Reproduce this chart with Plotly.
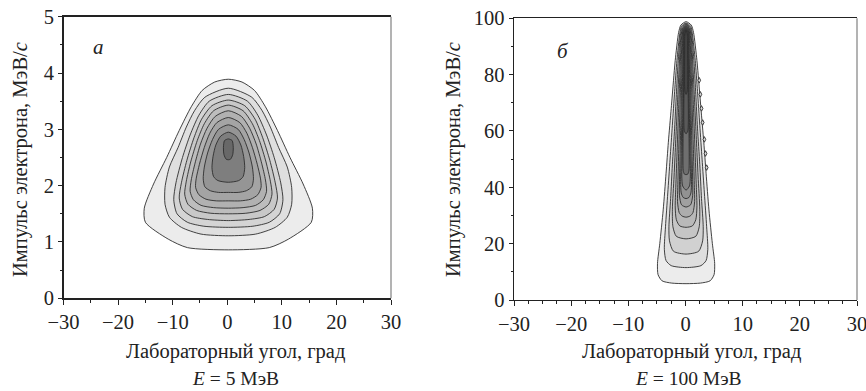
import plotly.graph_objects as go

# ---------------- data ----------------
# Panel a (E = 5 MeV): each contour is given as its right-half profile,
# half-width (deg) vs electron momentum (MeV/c), from top to bottom.
a_center = 0.2
a_halfwidth = [
    [0, 2.5, 4.8, 6.8, 9.0, 11.3, 13.7, 15.4, 15.2, 11.0, 7.5, 0],
    [0, 4.3, 6.2, 7.7, 9.2, 10.8, 11.6, 11.6, 10.8, 8.6, 5.0, 0],
    [0, 3.5, 5.4, 7.0, 8.4, 9.6, 10.0, 9.4, 7.5, 4.5, 0],
    [0, 3.0, 4.9, 6.3, 7.6, 8.6, 9.0, 8.4, 6.6, 3.8, 0],
    [0, 2.7, 4.4, 5.7, 6.9, 7.7, 8.0, 7.4, 5.8, 3.2, 0],
    [0, 2.4, 3.9, 5.1, 6.1, 6.8, 7.0, 6.4, 5.0, 2.7, 0],
    [0, 2.1, 3.4, 4.4, 5.3, 5.9, 6.0, 5.4, 4.1, 2.2, 0],
    [0, 1.8, 2.9, 3.8, 4.4, 4.6, 4.3, 3.3, 1.8, 0],
    [0, 1.4, 2.3, 2.8, 3.0, 2.7, 1.9, 0],
    [0, 0.7, 0.9, 0.8, 0.4, 0],
]
a_momentum = [
    [3.89, 3.84, 3.69, 3.40, 2.98, 2.50, 2.03, 1.60, 1.35, 1.05, 0.90, 0.86],
    [3.73, 3.57, 3.33, 3.04, 2.68, 2.33, 1.97, 1.67, 1.44, 1.26, 1.14, 1.11],
    [3.62, 3.50, 3.25, 2.90, 2.50, 2.05, 1.75, 1.50, 1.35, 1.28, 1.26],
    [3.52, 3.42, 3.18, 2.85, 2.45, 2.05, 1.78, 1.58, 1.45, 1.40, 1.38],
    [3.43, 3.33, 3.10, 2.80, 2.42, 2.08, 1.85, 1.67, 1.56, 1.51, 1.50],
    [3.33, 3.23, 3.02, 2.74, 2.40, 2.10, 1.90, 1.75, 1.65, 1.61, 1.60],
    [3.21, 3.12, 2.93, 2.68, 2.38, 2.12, 1.97, 1.84, 1.76, 1.73, 1.73],
    [3.08, 3.00, 2.82, 2.58, 2.33, 2.12, 1.98, 1.91, 1.88, 1.88],
    [2.95, 2.88, 2.72, 2.52, 2.32, 2.16, 2.09, 2.06],
    [2.83, 2.80, 2.68, 2.55, 2.47, 2.46],
]
a_fill = ["#ececec", "#dfdfdf", "#d4d4d4", "#c8c8c8", "#bdbdbd",
          "#b1b1b1", "#a4a4a4", "#959595", "#7e7e7e", "#686868"]

# Panel б (E = 100 MeV)
b_center = 0.1
b_halfwidth = [
    [0, 0.9, 1.3, 1.9, 2.2, 2.6, 3.1, 3.5, 4.0, 4.6, 5.0, 4.9, 4.2, 2.5, 0],
    [0, 0.8, 1.1, 1.6, 2.0, 2.4, 2.8, 3.2, 3.6, 3.8, 3.5, 2.6, 0],
    [0, 0.7, 1.0, 1.4, 1.7, 2.0, 2.4, 2.7, 3.0, 2.9, 2.2, 0],
    [0, 0.6, 0.9, 1.2, 1.5, 1.8, 2.1, 2.4, 2.3, 1.7, 0],
    [0, 0.55, 0.8, 1.05, 1.3, 1.55, 1.8, 1.9, 1.7, 1.1, 0],
    [0, 0.5, 0.7, 0.9, 1.1, 1.3, 1.45, 1.5, 1.2, 0.7, 0],
    [0, 0.45, 0.6, 0.75, 0.9, 1.05, 1.15, 1.15, 0.8, 0],
    [0, 0.4, 0.5, 0.62, 0.75, 0.85, 0.95, 0.85, 0.5, 0],
    [0, 0.35, 0.42, 0.5, 0.6, 0.68, 0.75, 0.6, 0],
    [0, 0.3, 0.36, 0.42, 0.5, 0.55, 0.5, 0.3, 0],
    [0, 0.25, 0.3, 0.35, 0.4, 0.3, 0],
    [0, 0.2, 0.25, 0.28, 0.2, 0],
]
b_momentum = [
    [98.8, 97.6, 95, 85, 78, 68, 56, 45, 32, 20, 13, 9, 6.8, 6.0, 5.8],
    [98.3, 97.2, 94.5, 85, 74, 62, 50, 38, 26, 18, 14, 12.2, 11.5],
    [98.0, 96.8, 94, 84, 73, 61, 48, 36, 26, 21, 17.3, 16.3],
    [97.8, 96.5, 93.5, 83, 70, 57, 44, 32, 26, 22.6, 21.7],
    [97.6, 96.2, 93, 82, 68, 54, 40, 33, 28.5, 26.3, 25.8],
    [97.4, 96.0, 92.5, 81, 66, 52, 40, 35, 31, 29.8, 29.4],
    [97.2, 95.8, 92, 80, 65, 52, 42, 37, 33.8, 33.0],
    [97.0, 95.5, 91.5, 79, 64, 52, 42, 38, 36.4, 36.0],
    [96.8, 95.2, 91, 78, 63, 52, 44, 40.5, 39.0],
    [96.5, 95.0, 90, 77, 62, 50, 46, 44.7, 44.5],
    [96.2, 94.5, 89, 76, 64, 60, 59],
    [95.8, 94.0, 88, 78, 74, 73],
]
b_fill = ["#ececec", "#dedede", "#d1d1d1", "#c5c5c5", "#b9b9b9", "#adadad",
          "#a0a0a0", "#929292", "#838383", "#6f6f6f", "#595959", "#444444"]

# small jagged bumps on the right edge of the outer contour of panel б
b_bump_momentum = [78, 73, 68, 63, 57, 52, 47]
b_bump_angle = [2.4, 2.6, 2.8, 3.0, 3.3, 3.5, 3.7]

x_range = [-30, 30]
a_y_range = [0, 5]
b_y_range = [0, 100]
x_title = "Лабораторный угол, град"
y_title = "Импульс электрона, МэВ/<i>c</i>"
a_caption = "<i>E</i> = 5 МэВ"
b_caption = "<i>E</i> = 100 МэВ"
a_label = "<i>а</i>"
b_label = "<i>б</i>"

# ---------------- figure ----------------
W, H = 866, 391
FONT = "'Liberation Serif', 'DejaVu Serif', serif"
INK = "#222222"

fig = go.Figure()


def add_contours(center, widths, heights, fills, xref, yref):
    for w, h, col in zip(widths, heights, fills):
        xs = [center + v for v in w] + [center - v for v in reversed(w[1:-1])]
        ys = list(h) + list(reversed(h[1:-1]))
        xs.append(xs[0])
        ys.append(ys[0])
        fig.add_trace(go.Scatter(
            x=xs, y=ys, mode="lines", fill="toself", fillcolor=col,
            line=dict(color="#2e2e2e", width=0.9, shape="spline", smoothing=0.7),
            xaxis=xref, yaxis=yref, hoverinfo="skip", showlegend=False))


add_contours(a_center, a_halfwidth, a_momentum, a_fill, "x", "y")
add_contours(b_center, b_halfwidth, b_momentum, b_fill, "x2", "y2")

# jagged bumps drawn as tiny diamonds
fig.add_trace(go.Scatter(
    x=b_bump_angle, y=b_bump_momentum, mode="markers",
    marker=dict(symbol="diamond-tall", size=4, color="#dddddd",
                line=dict(width=0.9, color="#2e2e2e")),
    xaxis="x2", yaxis="y2", hoverinfo="skip", showlegend=False))

# pixel geometry of the two plot areas
A = dict(l=63.5, r=391.0, t=16.7, b=298.3)
B = dict(l=514.0, r=857.0, t=18.3, b=300.0)


def px_dom(p):
    return [p["l"] / W, p["r"] / W], [1 - p["b"] / H, 1 - p["t"] / H]


axfont = dict(family=FONT, size=20.5, color=INK)


def xax(dom, anchor, minor_dtick):
    return dict(domain=dom, anchor=anchor, range=x_range, dtick=10,
                ticks="outside", ticklen=5, tickwidth=1, tickcolor=INK,
                minor=dict(dtick=minor_dtick, ticks="outside", ticklen=3,
                           tickwidth=1, tickcolor=INK),
                showline=True, linecolor=INK, linewidth=1.3, mirror=True,
                showgrid=False, zeroline=False, tickfont=axfont, fixedrange=True,
                automargin=False, ticklabeloverflow="allow")


def yax(dom, anchor, dtick, minor_dtick, rng):
    return dict(domain=dom, anchor=anchor, range=rng, dtick=dtick,
                ticks="outside", ticklen=4, tickwidth=1, tickcolor=INK,
                minor=dict(dtick=minor_dtick, ticks="outside", ticklen=2,
                           tickwidth=1, tickcolor=INK),
                showline=True, linecolor=INK, linewidth=1.3, mirror=False,
                showgrid=False, zeroline=False, tickfont=axfont, fixedrange=True,
                automargin=False, ticklabeloverflow="allow")


ax_dx, ax_dy = px_dom(A)
bx_dx, bx_dy = px_dom(B)

fig.update_layout(
    template="none",
    width=W, height=H,
    margin=dict(l=0, r=0, t=0, b=0, pad=0, autoexpand=False),
    paper_bgcolor="white", plot_bgcolor="white",
    font=dict(family=FONT, color=INK),
    xaxis=xax(ax_dx, "y", 5),
    yaxis=yax(ax_dy, "x", 1, 0.5, a_y_range),
    xaxis2=xax(bx_dx, "y2", 2.5),
    yaxis2=yax(bx_dy, "x2", 20, 10, b_y_range),
)

# right borders (lighter grey)
for p in (A, B):
    fig.add_shape(type="line", xref="paper", yref="paper",
                  x0=p["r"] / W, x1=p["r"] / W, y0=1 - p["b"] / H, y1=1 - p["t"] / H,
                  line=dict(color="#8a8a8a", width=1.3))


def ann(text, x, y, size=20.5, angle=0):
    fig.add_annotation(text=text, xref="paper", yref="paper",
                       x=x / W, y=1 - y / H, showarrow=False,
                       xanchor="center", yanchor="middle", textangle=angle,
                       font=dict(family=FONT, size=size, color=INK))


ann(x_title, 235, 351)
ann(a_caption, 235, 378, size=19.5)
ann(x_title, 691, 351)
ann(b_caption, 688, 378, size=19.5)
ann(y_title, 21, 160, angle=-90)
ann(y_title, 454, 160, angle=-90)
ann(a_label, 98, 47, size=21)
ann(b_label, 563, 51, size=21)

fig.write_html(
    "out.html",
    config={"displayModeBar": False, "staticPlot": True},
    post_script="document.body.style.margin='0';document.body.style.padding='0';"
                "document.body.style.overflow='hidden';",
)
